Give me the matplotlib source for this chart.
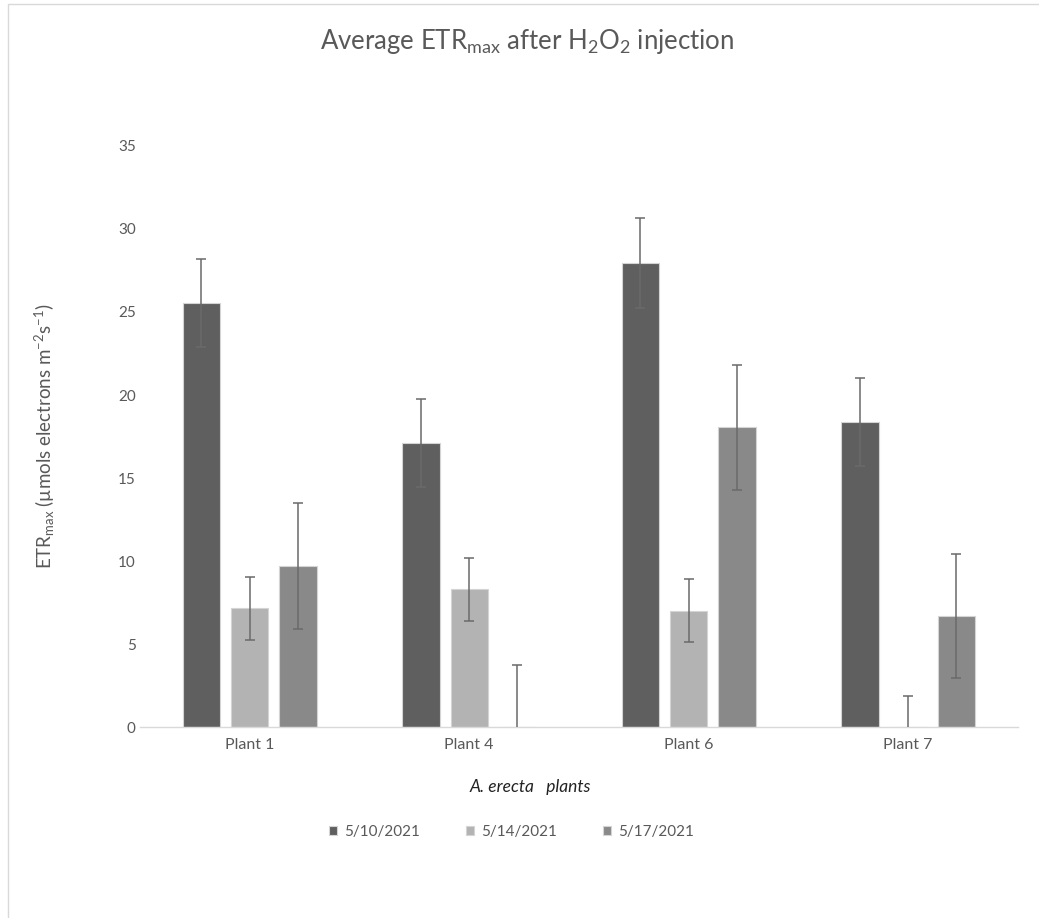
"""
Average ETRmax after H2O2 injection, grouped bars with error bars
"""
import numpy as np
import matplotlib
matplotlib.use("Agg")
import matplotlib.pyplot as plt
from matplotlib.patches import Rectangle

plt.rcParams['font.family'] = ['Lato', 'DejaVu Sans']

plants = ["Plant 1", "Plant 4", "Plant 6", "Plant 7"]
dates = ["5/10/2021", "5/14/2021", "5/17/2021"]
etr_0510 = [25.55, 17.1, 27.95, 18.4]
etr_0514 = [7.15, 8.3, 7.0, 0.0]
etr_0517 = [9.7, 0.0, 18.05, 6.7]
err_0510 = [2.65, 2.65, 2.7, 2.65]
err_0514 = [1.9, 1.9, 1.9, 1.9]
err_0517 = [3.8, 3.75, 3.75, 3.75]

colors = ['#5f5f5f', '#b3b3b3', '#898989']
txt = '#595959'

fig = plt.figure(figsize=(10.39, 9.18), dpi=100)
ax = fig.add_axes([0.1347, 0.208, 0.845, 0.633])

x = np.arange(len(plants))
w = 0.17
step = 0.22
series = [(etr_0510, err_0510), (etr_0514, err_0514), (etr_0517, err_0517)]
for k, (vals, errs) in enumerate(series):
    pos = x + (k - 1) * step
    ax.bar(pos, vals, w, color=colors[k], edgecolor='#d4d4d4', linewidth=0.8,
           label=dates[k], zorder=2)
    ax.errorbar(pos, vals, yerr=errs, fmt='none', ecolor='#6a6a6a',
                elinewidth=1.1, capsize=3.3, capthick=1.1, zorder=3)

ax.set_ylim(0, 35)
ax.set_xlim(-0.5, 3.5)
ax.set_yticks(range(0, 36, 5))
ax.set_xticks(x)
ax.set_xticklabels(plants)
for s in ['top', 'right', 'left']:
    ax.spines[s].set_visible(False)
ax.spines['bottom'].set_color('#d9d9d9')
ax.spines['bottom'].set_linewidth(1.0)
ax.tick_params(axis='both', length=0, colors=txt, labelsize=11)
ax.tick_params(axis='x', labelsize=11.5, pad=8)
ax.tick_params(axis='y', pad=3)

ax.set_ylabel(r"ETR$\mathregular{_{max}}$ (µmols electrons m$\mathregular{^{-2}}$s$\mathregular{^{-1}}$)",
              color=txt, fontsize=13.5, labelpad=44)

fig.text(530 / 1039, 1 - 787 / 918, "A. erecta   plants", style='italic',
         color='#222222', fontsize=12.5, ha='center', va='center')

fig.text(527 / 1039, 1 - 41 / 918,
         r"Average ETR$\mathregular{_{max}}$ after H$\mathregular{_2}$O$\mathregular{_2}$ injection",
         ha='center', va='center', fontsize=18.5, color=txt)

leg = ax.legend(loc='center', bbox_to_anchor=(0.423, -0.18), ncol=3, frameon=False,
                handlelength=0.55, handleheight=0.55, handletextpad=0.45,
                columnspacing=3.0, fontsize=11)
for t in leg.get_texts():
    t.set_color(txt)

# chart area border
fig.patches.append(Rectangle((8 / 1039, -0.1), 1.2, 1.1 - 4 / 918, transform=fig.transFigure,
                             fill=False, edgecolor='#d9d9d9', linewidth=1.0))

fig.savefig("out.png", dpi=100)
